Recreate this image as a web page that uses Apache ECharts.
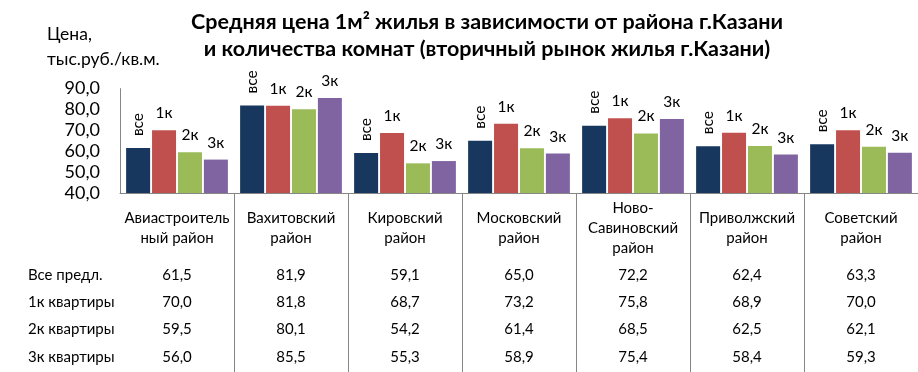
<!DOCTYPE html>
<html>
<head>
<meta charset="utf-8">
<script src="https://cdn.jsdelivr.net/npm/echarts@6/dist/echarts.min.js"></script>
<style>html,body{margin:0;padding:0;background:#fff}#c{width:918px;height:372px}</style>
</head>
<body>
<div id="c"></div>
<script>
const categories = ['Авиастроитель\nный район', 'Вахитовский\nрайон', 'Кировский\nрайон', 'Московский\nрайон', 'Ново-\nСавиновский\nрайон', 'Приволжский\nрайон', 'Советский\nрайон'];
const seriesNames = ['Все предл.', '1к квартиры', '2к квартиры', '3к квартиры'];
const barLabels = ['все', '1к', '2к', '3к'];
const valAll = [61.5, 81.9, 59.1, 65.0, 72.2, 62.4, 63.3];
const val1k = [70.0, 81.8, 68.7, 73.2, 75.8, 68.9, 70.0];
const val2k = [59.5, 80.1, 54.2, 61.4, 68.5, 62.5, 62.1];
const val3k = [56.0, 85.5, 55.3, 58.9, 75.4, 58.4, 59.3];
const yTicks = [40, 50, 60, 70, 80, 90];

const seriesData = [valAll, val1k, val2k, val3k];
const colors = ['#17375E', '#C0504D', '#9BBB59', '#8064A2'];
const FONT = 'Lato, "Noto Sans", sans-serif';
const fmt = v => v.toFixed(1).replace('.', ',');

const chart = echarts.init(document.getElementById('c'), null, {renderer: 'canvas'});

const rowOffsets = [82, 109, 136, 164];
const xAxes = [{
  type: 'category', data: categories, gridIndex: 0,
  axisLine: {show: true, lineStyle: {color: '#868686', width: 1}},
  axisTick: {show: true, length: 180, interval: (i) => i !== 0, lineStyle: {color: '#868686'}},
  axisLabel: {interval: 0, margin: 35, verticalAlign: 'middle', fontFamily: FONT, fontSize: 15, lineHeight: 20, color: '#000'},
  splitLine: {show: false}
}];
seriesData.forEach((arr, k) => {
  xAxes.push({
    type: 'category', data: categories, gridIndex: 0, position: 'bottom', offset: rowOffsets[k],
    axisLine: {show: false}, axisTick: {show: false}, splitLine: {show: false},
    axisLabel: {interval: 0, margin: 0, verticalAlign: 'middle', fontFamily: FONT, fontSize: 15, color: '#000',
      formatter: (v, i) => fmt(arr[i])},
    name: seriesNames[k], nameLocation: 'start', nameGap: 92,
    nameTextStyle: {align: 'left', verticalAlign: 'middle', fontFamily: FONT, fontSize: 15, color: '#000'}
  });
});

const series = seriesData.map((arr, k) => ({
  name: seriesNames[k], type: 'bar', xAxisIndex: 0, yAxisIndex: 0,
  data: arr, barWidth: 24, barGap: '8%',
  itemStyle: {color: colors[k]},
  label: k === 0 ? {
    show: true, position: 'top', rotate: 90, align: 'left', verticalAlign: 'middle', distance: 12,
    formatter: () => barLabels[k], fontFamily: FONT, fontSize: 15.5, color: '#000'
  } : {
    show: true, position: 'top', distance: 9,
    formatter: () => barLabels[k], fontFamily: FONT, fontSize: 15.5, color: '#000'
  }
}));

chart.setOption({
  animation: false,
  backgroundColor: '#fff',
  title: [{
    text: 'Средняя цена 1м² жилья в зависимости от района г.Казани\nи количества комнат (вторичный рынок жилья г.Казани)',
    left: 482, top: 4, textAlign: 'center',
    textStyle: {fontFamily: FONT, fontSize: 21.5, fontWeight: 'bold', lineHeight: 27, color: '#000'}
  }, {
    text: 'Цена,\nтыс.руб./кв.м.',
    left: 42, top: 17,
    textStyle: {fontFamily: FONT, fontSize: 17.5, fontWeight: 'normal', lineHeight: 25, color: '#000'}
  }],
  grid: {left: 120, right: -1, top: 88.6, bottom: 179},
  xAxis: xAxes,
  yAxis: {
    type: 'value', min: yTicks[0], max: yTicks[yTicks.length - 1], interval: 10,
    axisLine: {show: true, lineStyle: {color: '#868686'}},
    axisTick: {show: false}, splitLine: {show: false},
    axisLabel: {margin: 20, fontFamily: FONT, fontSize: 18, color: '#000', formatter: v => fmt(v)}
  },
  series: series
});
</script>
</body>
</html>
